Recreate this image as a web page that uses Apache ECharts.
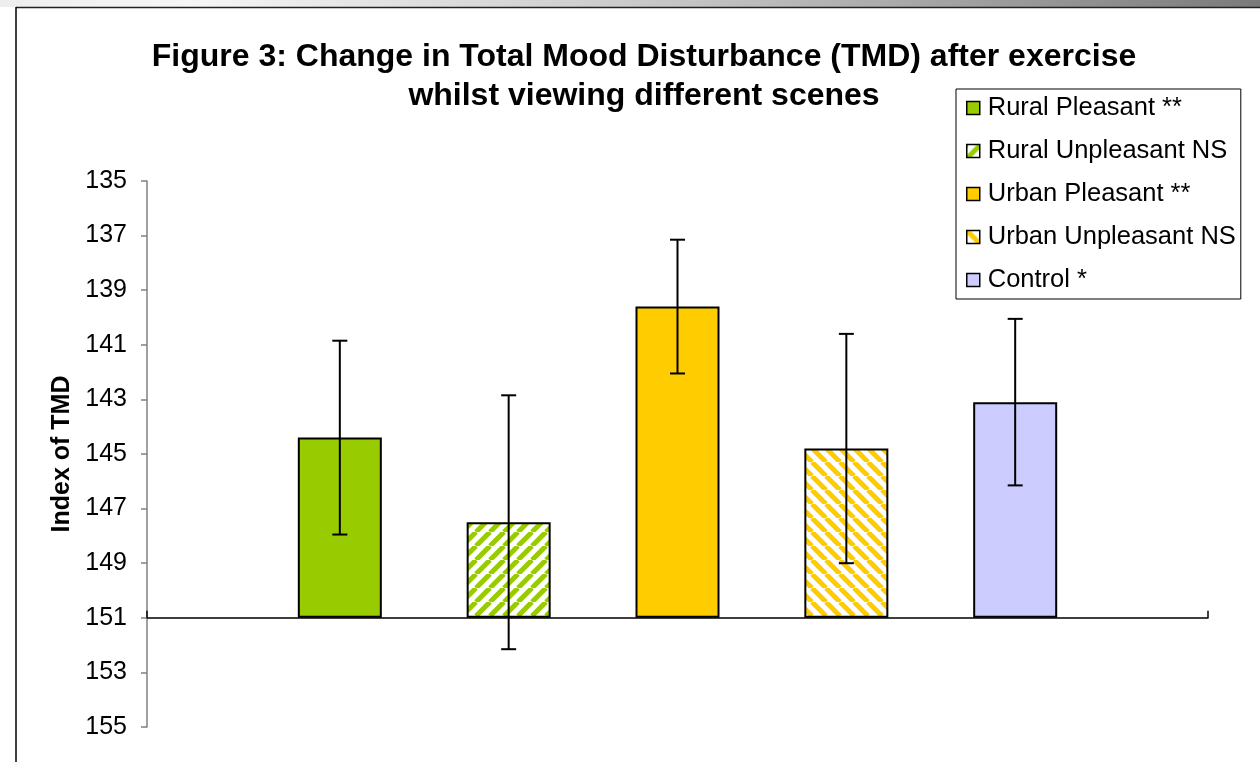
<!DOCTYPE html>
<html>
<head>
<meta charset="utf-8">
<script src="https://cdn.jsdelivr.net/npm/echarts@6/dist/echarts.min.js"></script>
<style>
  html, body { margin: 0; padding: 0; background: #fff; }
  #chart { width: 1260px; height: 762px; }
</style>
</head>
<body>
<div id="chart"></div>
<script>
// ---- data ----
const seriesNames = ['Rural Pleasant **', 'Rural Unpleasant NS', 'Urban Pleasant **', 'Urban Unpleasant NS', 'Control *'];
const means = [144.4, 147.5, 139.6, 144.8, 143.1];
const errors = [3.55, 4.65, 2.45, 4.2, 3.05];
const yMin = 135;
const yMax = 155;
const yStep = 2;
const baseline = 151;
const category = ['Scenes'];

// ---- styling helpers ----
const FONT = '"Liberation Sans", Arial, sans-serif';
function stripes(color, dir) {
  const P = 14;
  const c = document.createElement('canvas');
  c.width = P; c.height = P;
  const ctx = c.getContext('2d');
  ctx.fillStyle = '#ffffff';
  ctx.fillRect(0, 0, P, P);
  ctx.strokeStyle = color;
  ctx.lineWidth = 5;
  ctx.beginPath();
  for (const k of [-P, 0, P]) {
    if (dir === '/') { ctx.moveTo(k, P); ctx.lineTo(k + P, 0); }
    else { ctx.moveTo(k, 0); ctx.lineTo(k + P, P); }
  }
  ctx.stroke();
  return { image: c, repeat: 'repeat' };
}
const fills = ['#99CC00', stripes('#99CC00', '/'), '#FFCC00', stripes('#FFCC00', '\\'), '#CCCCFF'];
const BAR_W = 84;
const GAP = 1.01;

const barSeries = seriesNames.map((name, i) => ({
  type: 'bar',
  name: name,
  data: [means[i]],
  barWidth: BAR_W,
  barGap: (GAP * 100) + '%',
  itemStyle: { color: fills[i], borderColor: '#000', borderWidth: 2 },
  emphasis: { disabled: true },
  z: 2
}));

const errSeries = {
  type: 'custom',
  name: 'error',
  data: means.map((m, i) => [0, m, errors[i], i]),
  z: 5,
  silent: true,
  renderItem: function (params, api) {
    const m = api.value(1), e = api.value(2), idx = api.value(3);
    const n = seriesNames.length;
    const off = (idx - (n - 1) / 2) * BAR_W * (1 + GAP);
    const top = api.coord([0, m - e]);
    const bot = api.coord([0, m + e]);
    const x = top[0] + off;
    const hw = 7.5;
    const st = { stroke: '#000', lineWidth: 2 };
    return {
      type: 'group',
      children: [
        { type: 'line', shape: { x1: x, y1: top[1], x2: x, y2: bot[1] }, style: st },
        { type: 'line', shape: { x1: x - hw, y1: top[1], x2: x + hw, y2: top[1] }, style: st },
        { type: 'line', shape: { x1: x - hw, y1: bot[1], x2: x + hw, y2: bot[1] }, style: st }
      ]
    };
  }
};

const chart = echarts.init(document.getElementById('chart'), null, { renderer: 'canvas' });
const option = {
  animation: false,
  backgroundColor: '#ffffff',
  graphic: [
    {
      type: 'rect', left: 0, top: 0, z: 0,
      shape: { width: 1260, height: 7 },
      style: {
        fill: new echarts.graphic.LinearGradient(0, 0, 1, 0, [
          { offset: 0, color: '#eeeeee' },
          { offset: 0.15, color: '#f6f6f6' },
          { offset: 0.55, color: '#c4c4c4' },
          { offset: 1, color: '#7a7a7a' }
        ])
      }
    },
    { type: 'line', z: 1, shape: { x1: 16, y1: 7.5, x2: 1260, y2: 7.5 }, style: { stroke: '#222', lineWidth: 1.5 } },
    { type: 'line', z: 1, shape: { x1: 16, y1: 7, x2: 16, y2: 762 }, style: { stroke: '#000', lineWidth: 1.5 } },
    {
      type: 'text', x: 644, y: 38, z: 10,
      style: {
        text: 'Figure 3: Change in Total Mood Disturbance (TMD) after exercise\nwhilst viewing different scenes',
        font: 'bold 32px ' + FONT,
        fill: '#000',
        textAlign: 'center',
        lineHeight: 39
      }
    }
  ],
  legend: {
    orient: 'vertical',
    left: 956, top: 89,
    padding: [6, 5, 6, 10],
    itemWidth: 13, itemHeight: 13, itemGap: 17,
    icon: 'rect',
    borderColor: '#000', borderWidth: 1,
    backgroundColor: '#fff',
    data: seriesNames,
    itemStyle: { borderColor: '#000', borderWidth: 1.5 },
    textStyle: { fontSize: 25.5, color: '#000', fontFamily: FONT, padding: [0, 0, 0, 3] },
    selectedMode: false
  },
  grid: { left: 147, right: 52, top: 181, bottom: 35, outerBoundsMode: 'none' },
  xAxis: {
    type: 'category',
    data: category,
    axisLine: { show: true, lineStyle: { color: '#000', width: 1.5 } },
    axisTick: { show: true, inside: true, length: 7, lineStyle: { color: '#000', width: 1.5 } },
    axisLabel: { show: false },
    splitLine: { show: false }
  },
  yAxis: {
    type: 'value',
    inverse: true,
    min: yMin, max: yMax, interval: yStep,
    startValue: baseline,
    name: 'Index of TMD',
    nameLocation: 'middle',
    nameRotate: 90,
    nameGap: 72,
    nameTextStyle: { fontSize: 25, fontWeight: 'bold', color: '#000', fontFamily: FONT },
    axisLine: { show: true, lineStyle: { color: '#808080', width: 1.5 } },
    axisTick: { show: true, inside: false, length: 6, lineStyle: { color: '#808080', width: 1.5 } },
    axisLabel: { fontSize: 25, color: '#000', fontFamily: FONT, margin: 20 },
    splitLine: { show: false }
  },
  series: barSeries.concat([errSeries])
};
chart.setOption(option);
const yBase = chart.convertToPixel({ yAxisIndex: 0 }, baseline);
const yBottom = chart.convertToPixel({ yAxisIndex: 0 }, yMax);
chart.setOption({ xAxis: { offset: yBase - yBottom } });
</script>
</body>
</html>
